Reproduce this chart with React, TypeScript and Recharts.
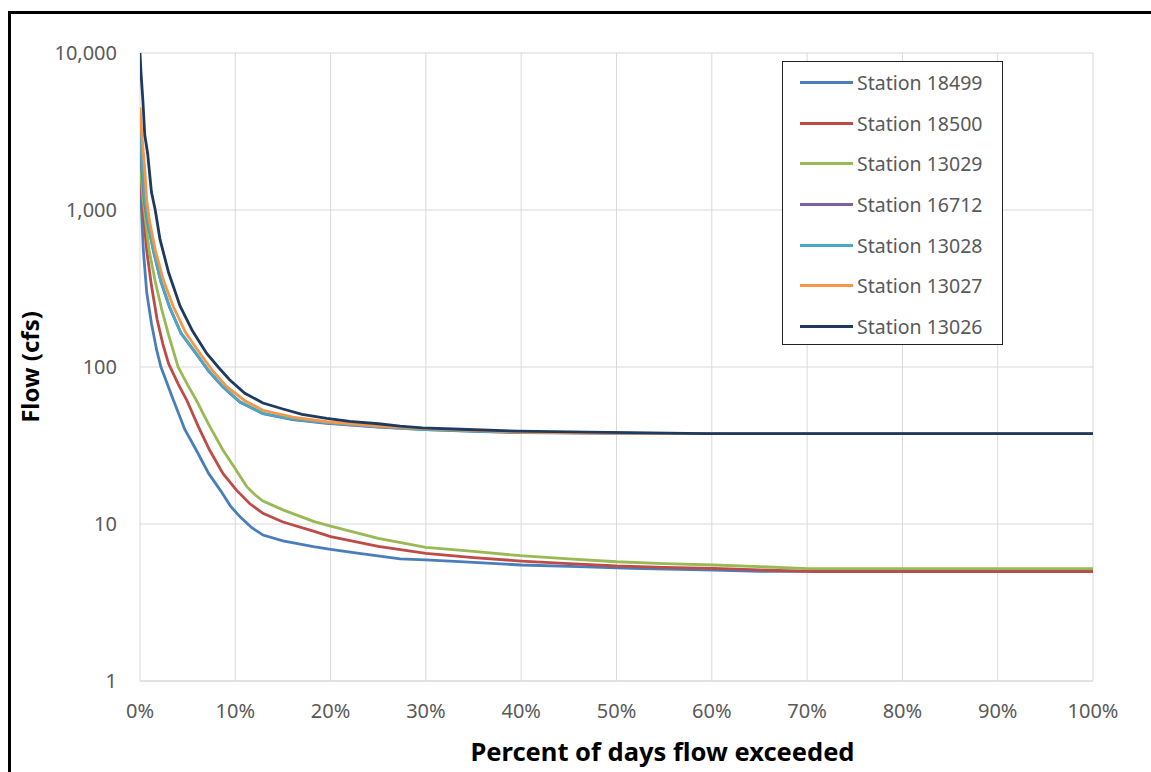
import React from "react";
import {
  LineChart,
  Line,
  XAxis,
  YAxis,
  CartesianGrid,
  Legend,
} from "recharts";

// percent of days exceeded (x) and flow in cfs (y)
const pct18499 = [0, 0.1, 0.35, 0.7, 1.2, 1.75, 2.2, 3.5, 4.7, 5.9, 7.2, 8.4, 9.5, 10.5, 11.7, 12.9, 15, 18.2, 20, 23, 27.3, 30, 35, 40, 46, 51.6, 60.2, 65, 100];
const flow18499 = [1800, 1200, 556, 300, 190, 128, 100, 61.6, 40, 29.6, 21, 16.5, 13, 11.1, 9.5, 8.5, 7.8, 7.17, 6.9, 6.5, 6.0, 5.9, 5.7, 5.48, 5.35, 5.22, 5.09, 5.0, 5.0];

const pct18500 = [0, 0.2, 0.7, 1.2, 1.8, 2.4, 3.0, 4.0, 4.9, 6.1, 7.3, 8.7, 10.1, 11.5, 12.9, 15, 18.2, 20, 25, 30, 35, 40, 45, 50, 55, 60.2, 65, 70.8, 100];
const flow18500 = [2500, 1200, 556, 330, 200, 140, 105, 78, 61.6, 42, 29.6, 21, 16.5, 13.5, 11.7, 10.3, 9.0, 8.3, 7.2, 6.5, 6.1, 5.81, 5.6, 5.4, 5.3, 5.22, 5.1, 4.97, 4.97];

const pct13029 = [0, 0.3, 0.95, 1.6, 2.3, 3.0, 4.0, 5.0, 5.9, 7.3, 8.7, 10, 11.2, 12.1, 12.9, 15, 18.2, 20, 25, 30, 35, 39.9, 45, 50, 55, 60.2, 65, 70, 100];
const flow13029 = [2000, 1200, 556, 350, 230, 160, 100, 77, 61.6, 42, 29.6, 22.5, 17.3, 15.3, 14.0, 12.3, 10.4, 9.7, 8.1, 7.1, 6.7, 6.28, 6.0, 5.75, 5.6, 5.48, 5.35, 5.19, 5.19];

const pct16712 = [0, 0.2, 0.5, 0.9, 1.4, 2.2, 3.1, 4.3, 5.9, 7.2, 8.7, 10.5, 12.9, 16, 19.6, 25, 30, 35, 40, 47, 55, 100];
const flow16712 = [2600, 1800, 1100, 780, 550, 348, 240, 164, 121, 94, 74.5, 59.5, 50.5, 46.3, 43.8, 41.4, 39.9, 38.9, 38.2, 37.9, 37.6, 37.6];

const pct13028 = [0, 0.2, 0.5, 0.9, 1.4, 2.2, 3.1, 4.3, 5.9, 7.2, 8.7, 10.5, 12.9, 16, 19.6, 25, 30, 35, 40, 47, 55, 100];
const flow13028 = [3500, 2000, 1160, 800, 556, 350, 242, 165, 122, 95, 75, 60, 50.7, 46.5, 44, 41.5, 40, 39, 38.3, 38, 37.6, 37.6];

const pct13027 = [0, 0.2, 0.5, 0.7, 1.0, 1.6, 2.5, 3.5, 4.8, 6.3, 7.6, 9.1, 11, 12.9, 16, 19.6, 25, 30, 35, 40, 47, 59.5, 100];
const flow13027 = [4500, 3000, 1800, 1160, 850, 556, 350, 242, 165, 122, 95, 75, 61, 53, 48, 44.8, 42, 40.5, 39.5, 38.5, 38, 37.6, 37.6];

const pct13026 = [0, 0.1, 0.3, 0.5, 0.8, 1.2, 1.6, 2.1, 3, 4.2, 5.5, 7, 8.2, 9.4, 11, 12.9, 15, 17, 19.6, 22, 25, 27.3, 29.6, 34.4, 39.7, 47, 59.5, 100];
const flow13026 = [10000, 7600, 5000, 3000, 2300, 1300, 1000, 650, 400, 245, 170, 122, 100, 83, 68, 59, 54, 50, 47, 45, 43.5, 42, 41, 40, 39, 38.5, 37.6, 37.6];

const xTicks = [0, 10, 20, 30, 40, 50, 60, 70, 80, 90, 100];
const yTicks = [1, 10, 100, 1000, 10000];

const zip = (xs: number[], ys: number[]) => xs.map((x, i) => ({ x, y: ys[i] }));

const series = [
  { name: "Station 18499", color: "#4A7EBB", data: zip(pct18499, flow18499) },
  { name: "Station 18500", color: "#BE4B48", data: zip(pct18500, flow18500) },
  { name: "Station 13029", color: "#98B954", data: zip(pct13029, flow13029) },
  { name: "Station 16712", color: "#7D60A0", data: zip(pct16712, flow16712) },
  { name: "Station 13028", color: "#46AAC5", data: zip(pct13028, flow13028) },
  { name: "Station 13027", color: "#F79646", data: zip(pct13027, flow13027) },
  { name: "Station 13026", color: "#1F3A60", data: zip(pct13026, flow13026) },
];
const seriesOrder = series.map((s) => s.name);

const FONT = "'Noto Sans', 'DejaVu Sans', sans-serif";
const TICK_COLOR = "#595959";
const GRID = "#D9D9D9";

function LegendBox({ payload }: { payload?: Array<{ value: string; color: string }> }) {
  // keep the series order rather than recharts' sorted order
  const items = [...(payload ?? [])].sort(
    (a, b) => seriesOrder.indexOf(a.value) - seriesOrder.indexOf(b.value)
  );
  return (
    <div
      style={{
        width: 221,
        height: 284,
        border: "1.5px solid #222",
        background: "#fff",
        boxSizing: "border-box",
        fontFamily: FONT,
      }}
    >
      {items.map((p) => (
        <div
          key={p.value}
          style={{ display: "flex", alignItems: "center", height: 40.7 }}
        >
          <div
            style={{
              marginLeft: 17,
              width: 53,
              height: 3,
              background: p.color,
            }}
          />
          <span
            style={{
              marginLeft: 4,
              fontSize: 19.5,
              color: TICK_COLOR,
              whiteSpace: "nowrap",
            }}
          >
            {p.value}
          </span>
        </div>
      ))}
    </div>
  );
}

function YTitle({ viewBox }: { viewBox?: { x: number; y: number; width: number; height: number } }) {
  const vb = viewBox ?? { x: 0, y: 0, width: 0, height: 0 };
  const cx = vb.x + 29;
  const cy = vb.y + vb.height / 2;
  return (
    <text
      x={cx}
      y={cy}
      transform={`rotate(-90 ${cx} ${cy})`}
      textAnchor="middle"
      dominantBaseline="central"
      fontFamily={FONT}
      fontWeight={700}
      fontSize={24}
      fill="#000"
    >
      Flow (cfs)
    </text>
  );
}

function XTitle({ viewBox }: { viewBox?: { x: number; y: number; width: number; height: number } }) {
  const vb = viewBox ?? { x: 0, y: 0, width: 0, height: 0 };
  // the title sits a little right of the plot centre in the reference
  return (
    <text
      x={vb.x + vb.width / 2 + 46}
      y={vb.y + 70}
      textAnchor="middle"
      dominantBaseline="central"
      fontFamily={FONT}
      fontWeight={700}
      fontSize={25.5}
      fill="#000"
    >
      Percent of days flow exceeded
    </text>
  );
}

export default function App() {
  return (
    <div
      style={{
        position: "absolute",
        left: 0,
        top: 0,
        width: 1151,
        height: 772,
        background: "#fff",
        overflow: "hidden",
      }}
    >
      {/* outer frame, only top and left edges fall inside the picture */}
      <div
        style={{
          position: "absolute",
          left: 8,
          top: 11,
          width: 1200,
          height: 800,
          borderTop: "3px solid #000",
          borderLeft: "3px solid #000",
        }}
      />
      <div style={{ position: "absolute", left: 0, top: 0 }}>
        <LineChart
          width={1151}
          height={772}
          margin={{ top: 53, right: 58, bottom: 0, left: 0 }}
        >
          <CartesianGrid stroke={GRID} strokeWidth={1} />
          <XAxis
            type="number"
            dataKey="x"
            domain={[0, 100]}
            ticks={xTicks}
            tickFormatter={(v: number) => `${v}%`}
            tick={{ fill: TICK_COLOR, fontSize: 20, fontFamily: FONT }}
            tickLine={false}
            tickSize={0}
            tickMargin={23}
            axisLine={{ stroke: GRID }}
            height={91}
            allowDataOverflow
            label={<XTitle />}
          />
          <YAxis
            type="number"
            scale="log"
            domain={[1, 10000]}
            ticks={yTicks}
            tickFormatter={(v: number) => v.toLocaleString("en-US")}
            tick={{ fill: TICK_COLOR, fontSize: 20, fontFamily: FONT }}
            tickLine={false}
            tickSize={0}
            tickMargin={23}
            axisLine={false}
            width={140}
            allowDataOverflow
            label={<YTitle />}
          />
          <Legend
            layout="vertical"
            align="center"
            verticalAlign="middle"
            wrapperStyle={{ left: 782, top: 61, width: 221, height: 284 }}
            content={(props: any) => <LegendBox payload={props.payload} />}
          />
          {series.map((s) => (
            <Line
              key={s.name}
              data={s.data}
              dataKey="y"
              name={s.name}
              type="linear"
              stroke={s.color}
              strokeWidth={2.8}
              dot={false}
              activeDot={false}
              isAnimationActive={false}
            />
          ))}
        </LineChart>
      </div>
    </div>
  );
}
